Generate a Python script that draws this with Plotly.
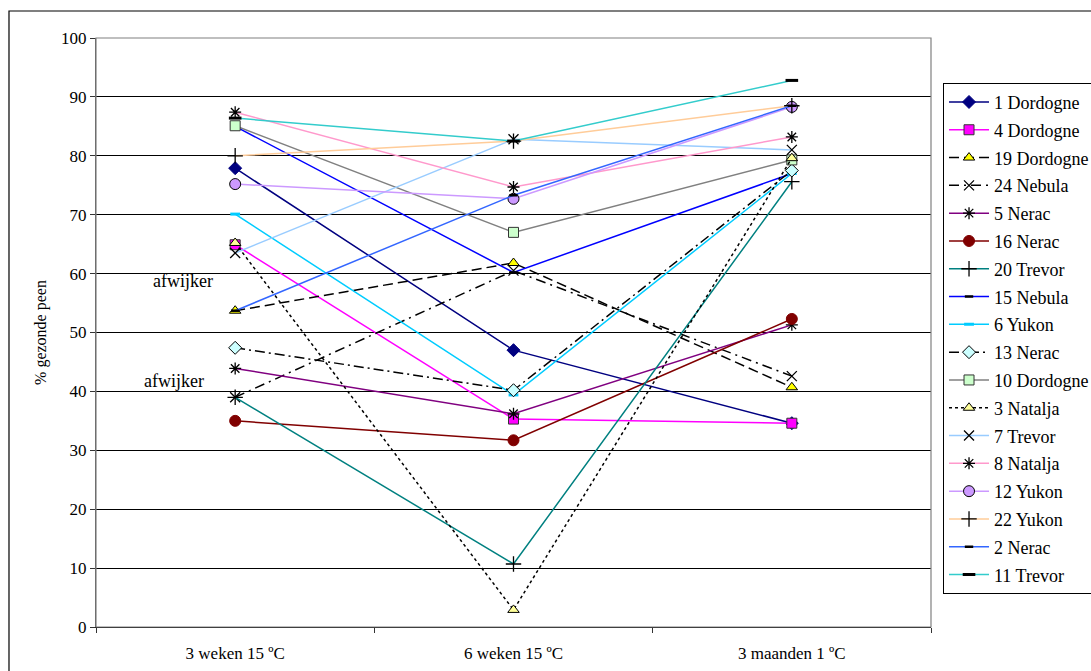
import plotly.graph_objects as go

categories = ["3 weken 15 ºC", "6 weken 15 ºC", "3 maanden 1 ºC"]

names = ["1 Dordogne", "4 Dordogne", "19 Dordogne", "24 Nebula", "5 Nerac", "16 Nerac",
         "20 Trevor", "15 Nebula", "6 Yukon", "13 Nerac", "10 Dordogne", "3 Natalja",
         "7 Trevor", "8 Natalja", "12 Yukon", "22 Yukon", "2 Nerac", "11 Trevor"]

dordogne_1 = [77.9, 47.0, 34.6]
dordogne_4 = [64.9, 35.3, 34.6]
dordogne_19 = [53.7, 61.8, 40.7]
nebula_24 = [39.0, 60.5, 42.6]
nerac_5 = [43.9, 36.2, 51.3]
nerac_16 = [35.0, 31.7, 52.3]
trevor_20 = [39.0, 10.7, 75.6]
nebula_15 = [85.0, 60.2, 77.0]
yukon_6 = [70.1, 39.4, 77.0]
nerac_13 = [47.4, 40.2, 77.5]
dordogne_10 = [85.1, 67.0, 79.3]
natalja_3 = [65.2, 2.9, 79.6]
trevor_7 = [63.5, 82.8, 81.0]
natalja_8 = [87.4, 74.7, 83.2]
yukon_12 = [75.2, 72.7, 88.3]
yukon_22 = [80.0, 82.5, 88.5]
nerac_2 = [53.7, 73.3, 88.5]
trevor_11 = [86.4, 82.5, 92.8]

series = [dordogne_1, dordogne_4, dordogne_19, nebula_24, nerac_5, nerac_16, trevor_20,
          nebula_15, yukon_6, nerac_13, dordogne_10, natalja_3, trevor_7, natalja_8,
          yukon_12, yukon_22, nerac_2, trevor_11]

# (line colour, dash, marker symbol, marker size, marker fill, marker line colour, marker line width)
styles = [
    ("#000080", "solid", "diamond", 10, "#000080", "#000080", 1),
    ("#FF00FF", "solid", "square", 10, "#FF00FF", "#333333", 1),
    ("#000000", "10px,5px", "triangle-up", 10, "#FFFF00", "#000000", 1),
    ("#000000", "10px,5px,2px,5px", "x-thin-open", 10, "#000000", "#000000", 1.3),
    ("#800080", "solid", "asterisk-open", 10, "#000000", "#000000", 1.3),
    ("#800000", "solid", "circle", 11, "#800000", "#800000", 1),
    ("#008080", "solid", "cross-thin-open", 11, "#000000", "#000000", 1.3),
    ("#0000FF", "solid", "line-ew-open", 6, "#000000", "#000000", 2.5),
    ("#00CCFF", "solid", "line-ew-open", 7, "#00CCFF", "#00CCFF", 3),
    ("#000000", "10px,4px,2px,4px", "diamond", 10, "#CCFFFF", "#000000", 1),
    ("#808080", "solid", "square", 10, "#CCFFCC", "#333333", 1),
    ("#000000", "dot", "triangle-up", 10, "#FFFF99", "#000000", 1),
    ("#99CCFF", "solid", "x-thin-open", 10, "#000000", "#000000", 1.3),
    ("#FF99CC", "solid", "asterisk-open", 10, "#000000", "#000000", 1.3),
    ("#CC99FF", "solid", "circle", 11, "#CC99FF", "#000000", 1),
    ("#FFCC99", "solid", "cross-thin-open", 11, "#000000", "#000000", 1.3),
    ("#3366FF", "solid", "line-ew-open", 6, "#000000", "#000000", 2.5),
    ("#33CCCC", "solid", "line-ew-open", 9, "#000000", "#000000", 3),
]

FONT = "Liberation Serif"

fig = go.Figure()
for i, (nm, vals, st) in enumerate(zip(names, series, styles)):
    lc, dash, sym, sz, fill, mlc, mlw = st
    fig.add_trace(go.Scatter(
        x=categories, y=vals, name=nm, mode="lines+markers",
        legendgroup=f"g{i}",
        line=dict(color=lc, width=1.5, dash=dash),
        marker=dict(symbol=sym, size=sz, color=fill, line=dict(color=mlc, width=mlw)),
    ))

fig.add_annotation(x=0.104, xref="paper", y=58.7, yref="y", text="afwijker", xanchor="center",
                   showarrow=False, font=dict(family=FONT, size=18, color="black"))
fig.add_annotation(x=0.094, xref="paper", y=41.8, yref="y", text="afwijker", xanchor="center",
                   showarrow=False, font=dict(family=FONT, size=18, color="black"))

# outer chart border and plot-area frame
fig.add_shape(type="rect", xref="paper", yref="paper", x0=-0.1042, x1=1.3, y0=-0.2, y1=1.0458,
              line=dict(color="black", width=1.2), layer="below")
fig.add_shape(type="rect", xref="paper", yref="paper", x0=0, x1=1, y0=0, y1=1,
              line=dict(color="#808080", width=1.2))

fig.update_layout(
    width=1091, height=671,
    margin=dict(l=96, r=160, t=38, b=44, autoexpand=False),
    paper_bgcolor="white", plot_bgcolor="white",
    font=dict(family=FONT, size=16, color="black"),
    showlegend=True,
    legend=dict(x=1.0144, y=0.924, xanchor="left", yanchor="top",
                bordercolor="black", borderwidth=1, bgcolor="white",
                font=dict(family=FONT, size=18, color="black"),
                tracegroupgap=1.4, itemwidth=40),
    xaxis=dict(type="category", tickson="boundaries", ticks="outside", ticklen=5,
               tickcolor="#333333", showline=True, linecolor="black", linewidth=1.2,
               showgrid=False, tickfont=dict(family=FONT, size=17), range=[-0.5, 2.5],
               ticklabelstandoff=10),
    yaxis=dict(range=[0, 100], tickvals=list(range(0, 101, 10)), ticks="outside", ticklen=5,
               tickcolor="#333333", showline=True, linecolor="#555555", linewidth=1.2,
               showgrid=True, gridcolor="black", gridwidth=1, zeroline=False,
               tickfont=dict(family=FONT, size=17),
               title=dict(text="% gezonde peen", font=dict(family=FONT, size=16), standoff=10)),
)

fig.write_html("out.html")
